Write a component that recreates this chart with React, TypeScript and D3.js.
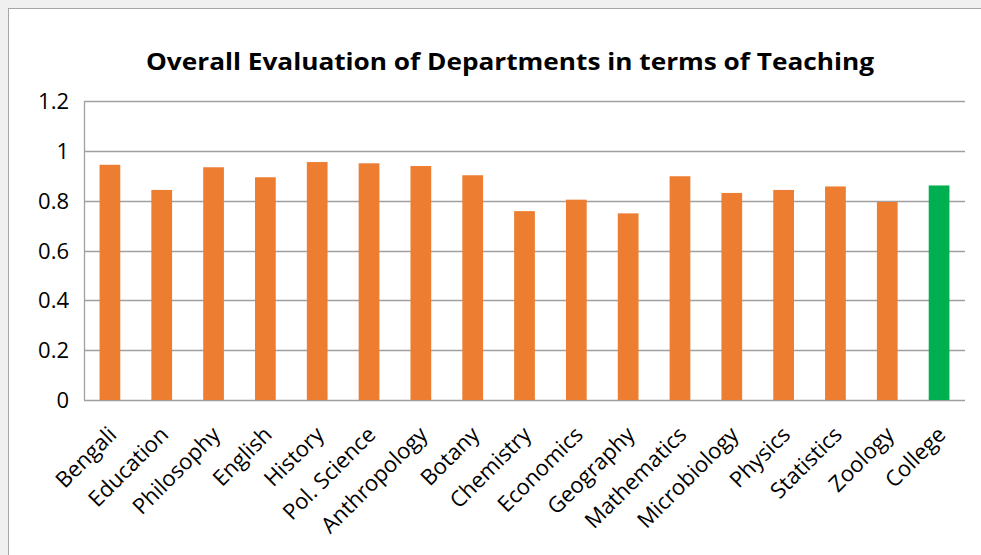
import * as d3 from "d3";
import { useRef, useEffect } from "react";

const departments = [
  "Bengali", "Education", "Philosophy", "English", "History", "Pol. Science",
  "Anthropology", "Botany", "Chemistry", "Economics", "Geography", "Mathematics",
  "Microbiology", "Physics", "Statistics", "Zoology", "College",
];
const scores = [
  0.944, 0.843, 0.934, 0.894, 0.955, 0.95, 0.939, 0.902, 0.758, 0.804,
  0.749, 0.898, 0.831, 0.843, 0.857, 0.795, 0.861,
];
const yTicks = [0, 0.2, 0.4, 0.6, 0.8, 1, 1.2];
const title = "Overall Evaluation of Departments in terms of Teaching";

const W = 981;
const H = 555;

// Renders the department evaluation bar chart
const App = () => {
  const ref = useRef(null);

  useEffect(() => {
    const svg = d3.select(ref.current);
    svg.selectAll("*").remove();

    const left = 84, right = 965, top = 101, bottom = 400;
    const font = "'Open Sans', 'Noto Sans', sans-serif";

    // outer background and chart frame
    svg.append("rect").attr("width", W).attr("height", H).attr("fill", "#f0f0f0");
    svg.append("rect")
      .attr("x", 8.5).attr("y", 8.5)
      .attr("width", W + 20).attr("height", H + 20)
      .attr("fill", "#ffffff")
      .attr("stroke", "#a6a6a6");

    const x = d3.scaleBand()
      .domain(departments)
      .range([left, right])
      .paddingInner(0.6)
      .paddingOuter(0.3);

    const y = d3.scaleLinear()
      .domain([0, 1.2])
      .range([bottom, top]);

    // gridlines
    svg.append("g")
      .selectAll("line")
      .data(yTicks)
      .join("line")
      .attr("x1", left).attr("x2", right)
      .attr("y1", d => Math.round(y(d)) + 0.5)
      .attr("y2", d => Math.round(y(d)) + 0.5)
      .attr("stroke", "#a0a0a0")
      .attr("stroke-width", 1.3);

    svg.append("line")
      .attr("x1", left + 0.5).attr("x2", left + 0.5)
      .attr("y1", top).attr("y2", bottom)
      .attr("stroke", "#a0a0a0")
      .attr("stroke-width", 1.3);

    // y labels
    svg.append("g")
      .selectAll("text")
      .data(yTicks)
      .join("text")
      .attr("x", 69)
      .attr("y", d => y(d) + 8)
      .attr("text-anchor", "end")
      .attr("font-family", font)
      .attr("font-size", 22)
      .attr("fill", "#000")
      .text(d => d3.format("~g")(d));

    // bars
    svg.append("g")
      .selectAll("rect")
      .data(scores)
      .join("rect")
      .attr("x", (d, i) => x(departments[i]))
      .attr("y", d => y(d))
      .attr("width", x.bandwidth())
      .attr("height", d => y(0) - y(d))
      .attr("fill", (d, i) => departments[i] === "College" ? "#00b050" : "#ed7d31");

    // category labels
    svg.append("g")
      .selectAll("text")
      .data(departments)
      .join("text")
      .attr("transform", d => {
        const cx = x(d) + x.bandwidth() / 2 + 8;
        return `translate(${cx},436) rotate(-45)`;
      })
      .attr("text-anchor", "end")
      .attr("font-family", font)
      .attr("font-size", 22)
      .attr("fill", "#000")
      .text(d => d);

    // title
    svg.append("text")
      .attr("x", 510)
      .attr("y", 70)
      .attr("text-anchor", "middle")
      .attr("font-family", font)
      .attr("font-weight", "bold")
      .attr("font-size", 24)
      .attr("textLength", 728)
      .attr("lengthAdjust", "spacingAndGlyphs")
      .attr("fill", "#000")
      .text(title);
  }, []);

  return (
    <div style={{ position: "fixed", left: 0, top: 0 }}>
      <svg ref={ref} width={W} height={H} style={{ display: "block" }} />
    </div>
  );
};

export default App;
